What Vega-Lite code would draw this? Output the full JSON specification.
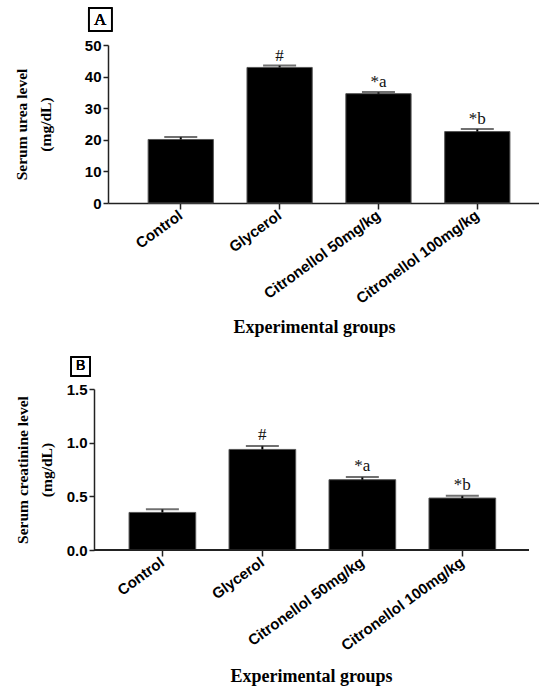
{
  "$schema": "https://vega.github.io/schema/vega-lite/v6.json",
  "datasets": {
    "urea": [
      {"group": "Control", "mean": 20.1, "upper": 20.9, "label": ""},
      {"group": "Glycerol", "mean": 42.9, "upper": 43.5, "label": "#"},
      {"group": "Citronellol 50mg/kg", "mean": 34.6, "upper": 35.1, "label": "*a"},
      {"group": "Citronellol 100mg/kg", "mean": 22.6, "upper": 23.4, "label": "*b"}
    ],
    "creat": [
      {"group": "Control", "mean": 0.35, "upper": 0.38, "label": ""},
      {"group": "Glycerol", "mean": 0.937, "upper": 0.97, "label": "#"},
      {"group": "Citronellol 50mg/kg", "mean": 0.655, "upper": 0.679, "label": "*a"},
      {"group": "Citronellol 100mg/kg", "mean": 0.484, "upper": 0.505, "label": "*b"}
    ]
  },
  "padding": {"left": 14, "top": 5, "right": 0, "bottom": 0},
  "background": "white",
  "config": {
    "view": {"stroke": null},
    "axis": {
      "grid": false,
      "domainColor": "#222",
      "domainWidth": 1.5,
      "tickColor": "#222",
      "tickWidth": 1.5,
      "labelFont": "Liberation Sans",
      "labelFontWeight": "bold",
      "labelColor": "black",
      "labelOverlap": false,
      "titleFont": "Liberation Serif",
      "titleFontWeight": "bold",
      "titleColor": "black"
    }
  },
  "vconcat": [
    {
      "width": 431,
      "height": 158,
      "data": {"name": "urea"},
      "layer": [
        {
          "layer": [
            {
              "mark": {"type": "bar", "color": "black", "stroke": "#555", "strokeWidth": 1},
              "encoding": {
                "x": {
                  "field": "group", "type": "nominal", "sort": null,
                  "scale": {"paddingInner": 0.34, "paddingOuter": 0.35, "align": 0.58},
                  "axis": {
                    "title": "Experimental groups", "titleFontSize": 18, "titlePadding": 12, "titleX": 206,
                    "labelAngle": -36, "labelAlign": "right", "labelBaseline": "middle",
                    "labelFontSize": 15, "labelPadding": 4, "tickSize": 6
                  }
                },
                "y": {
                  "field": "mean", "type": "quantitative",
                  "scale": {"domain": [0, 50], "nice": false},
                  "axis": {
                    "values": [0, 10, 20, 30, 40, 50], "tickCount": 6, "labelOverlap": false, "format": "d",
                    "title": ["Serum urea level", "(mg/dL)"],
                    "titleFontSize": 15.5, "titleLineHeight": 24, "titlePadding": 31,
                    "labelFontSize": 15, "labelPadding": 2, "tickSize": 5
                  }
                }
              }
            },
            {
              "mark": {"type": "rule", "color": "black", "strokeWidth": 2},
              "encoding": {
                "x": {"field": "group", "type": "nominal", "sort": null},
                "y": {
                  "field": "mean", "type": "quantitative",
                  "axis": {
                    "values": [0, 10, 20, 30, 40, 50], "tickCount": 6, "labelOverlap": false, "format": "d",
                    "title": ["Serum urea level", "(mg/dL)"],
                    "titleFontSize": 15.5, "titleLineHeight": 24, "titlePadding": 31,
                    "labelFontSize": 15, "labelPadding": 2, "tickSize": 5
                  }
                },
                "y2": {"field": "upper"}
              }
            },
            {
              "mark": {"type": "tick", "color": "#333", "thickness": 2, "size": 33},
              "encoding": {
                "x": {"field": "group", "type": "nominal", "sort": null},
                "y": {
                  "field": "upper", "type": "quantitative",
                  "axis": {
                    "values": [0, 10, 20, 30, 40, 50], "tickCount": 6, "labelOverlap": false, "format": "d",
                    "title": ["Serum urea level", "(mg/dL)"],
                    "titleFontSize": 15.5, "titleLineHeight": 24, "titlePadding": 31,
                    "labelFontSize": 15, "labelPadding": 2, "tickSize": 5
                  }
                }
              }
            },
            {
              "mark": {"type": "text", "font": "Liberation Serif", "fontSize": 17, "baseline": "alphabetic", "dy": -5, "color": "#111"},
              "encoding": {
                "x": {"field": "group", "type": "nominal", "sort": null},
                "y": {
                  "field": "upper", "type": "quantitative",
                  "axis": {
                    "values": [0, 10, 20, 30, 40, 50], "tickCount": 6, "labelOverlap": false, "format": "d",
                    "title": ["Serum urea level", "(mg/dL)"],
                    "titleFontSize": 15.5, "titleLineHeight": 24, "titlePadding": 31,
                    "labelFontSize": 15, "labelPadding": 2, "tickSize": 5
                  }
                },
                "text": {"field": "label"}
              }
            }
          ]
        },
        {
          "layer": [
            {
              "mark": {"type": "point", "shape": "square", "size": 529, "filled": false, "stroke": "black", "strokeWidth": 1.5, "opacity": 1},
              "encoding": {
                "x": {"datum": -1.8, "type": "quantitative", "scale": {"domain": [0, 100]}, "axis": null},
                "y": {"datum": 116.1, "type": "quantitative", "scale": {"domain": [0, 100]}, "axis": null}
              }
            },
            {
              "mark": {"type": "text", "font": "Liberation Serif", "fontSize": 17, "baseline": "middle", "align": "center", "color": "black"},
              "encoding": {
                "x": {"datum": -1.8, "type": "quantitative"},
                "y": {"datum": 116.1, "type": "quantitative"},
                "text": {"value": "A"}
              }
            }
          ]
        }
      ],
      "resolve": {"scale": {"x": "independent", "y": "independent"}}
    },
    {
      "width": 421,
      "height": 161,
      "data": {"name": "creat"},
      "layer": [
        {
          "layer": [
            {
              "mark": {"type": "bar", "color": "black", "stroke": "#555", "strokeWidth": 1},
              "encoding": {
                "x": {
                  "field": "group", "type": "nominal", "sort": null,
                  "scale": {"paddingInner": 0.333, "paddingOuter": 0.272, "align": 0.387},
                  "axis": {
                    "title": "Experimental groups", "titleFontSize": 18, "titlePadding": 14, "titleX": 203,
                    "domain": false,
                    "labelAngle": -36, "labelAlign": "right", "labelBaseline": "middle",
                    "labelFontSize": 15, "labelPadding": 4, "tickSize": 6
                  }
                },
                "y": {
                  "field": "mean", "type": "quantitative",
                  "scale": {"domain": [0, 1.5], "nice": false},
                  "axis": {
                    "values": [0, 0.5, 1, 1.5], "format": ".1f", "labelOverlap": false,
                    "offset": 14,
                    "title": ["Serum creatinine level", "(mg/dL)"],
                    "titleFontSize": 15.5, "titleLineHeight": 24, "titlePadding": 12,
                    "labelFontSize": 15, "labelPadding": 2, "tickSize": 5
                  }
                }
              }
            },
            {
              "mark": {"type": "rule", "color": "black", "strokeWidth": 2},
              "encoding": {
                "x": {"field": "group", "type": "nominal", "sort": null},
                "y": {"field": "mean", "type": "quantitative"},
                "y2": {"field": "upper"}
              }
            },
            {
              "mark": {"type": "tick", "color": "#333", "thickness": 2, "size": 33},
              "encoding": {
                "x": {"field": "group", "type": "nominal", "sort": null},
                "y": {"field": "upper", "type": "quantitative"}
              }
            },
            {
              "mark": {"type": "text", "font": "Liberation Serif", "fontSize": 17, "baseline": "alphabetic", "dy": -6, "color": "#111"},
              "encoding": {
                "x": {"field": "group", "type": "nominal", "sort": null},
                "y": {"field": "upper", "type": "quantitative"},
                "text": {"field": "label"}
              }
            }
          ]
        },
        {
          "layer": [
            {
              "mark": {"type": "rule", "color": "#222", "strokeWidth": 1.5},
              "encoding": {
                "x": {"datum": -3.33, "type": "quantitative", "scale": {"domain": [0, 100]}, "axis": null},
                "x2": {"datum": 100},
                "y": {"datum": 0, "type": "quantitative", "scale": {"domain": [0, 100]}, "axis": null}
              }
            },
            {
              "mark": {"type": "point", "shape": "square", "size": 361, "filled": false, "stroke": "black", "strokeWidth": 1.5, "opacity": 1},
              "encoding": {
                "x": {"datum": -6.5, "type": "quantitative"},
                "y": {"datum": 114, "type": "quantitative"}
              }
            },
            {
              "mark": {"type": "text", "font": "Liberation Sans", "fontSize": 14, "baseline": "middle", "align": "center", "color": "black"},
              "encoding": {
                "x": {"datum": -6.5, "type": "quantitative"},
                "y": {"datum": 114, "type": "quantitative"},
                "text": {"value": "B"}
              }
            }
          ]
        }
      ],
      "resolve": {"scale": {"x": "independent", "y": "independent"}}
    }
  ],
  "spacing": 16
}
